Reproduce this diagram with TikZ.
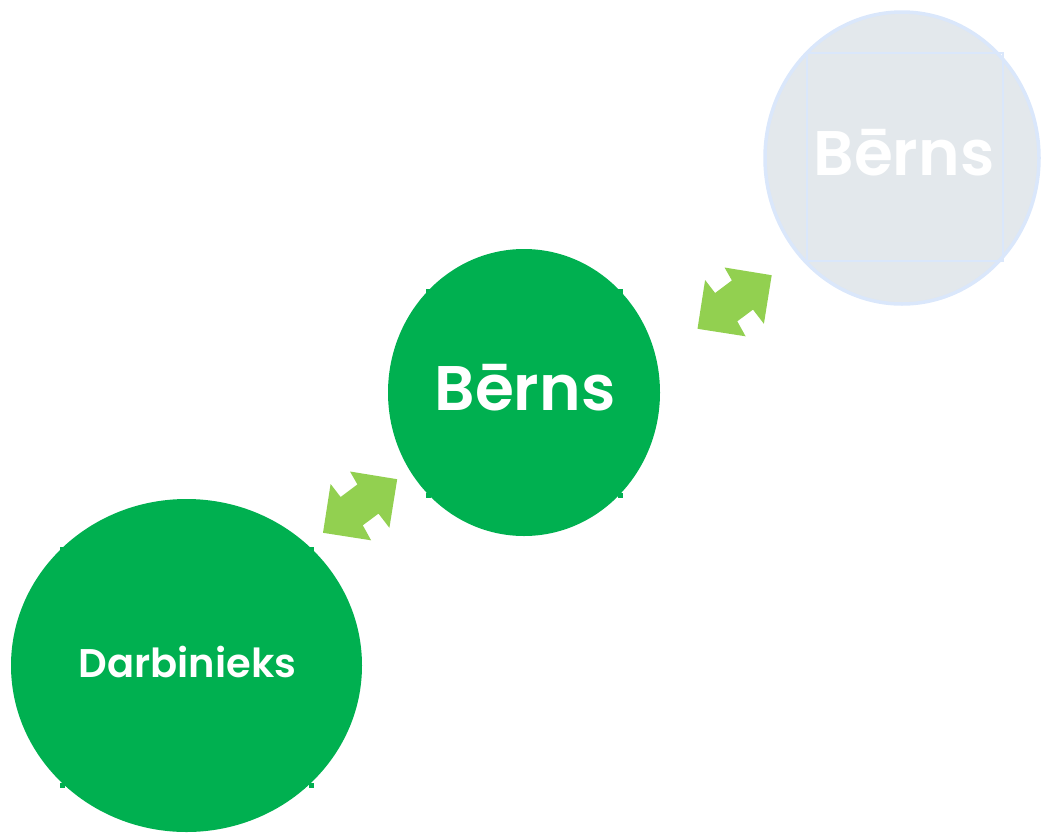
\documentclass[tikz,border=0pt]{standalone}
\usepackage{fontspec}
\setmainfont{Poppins}[BoldFont={Poppins SemiBold}]
\usetikzlibrary{shapes.geometric}
\definecolor{grn}{HTML}{00B050}
\definecolor{lgrn}{HTML}{92D050}
\definecolor{ghostfill}{HTML}{E3E8EC}
\definecolor{ghostline}{HTML}{DAE7FB}
\tikzset{
  bubble/.style={ellipse, fill=grn, inner sep=0pt, text=white, font=\bfseries},
  ghost/.style={ellipse, fill=ghostfill, draw=ghostline, line width=3.5pt, inner sep=0pt, text=white, font=\bfseries},
  tick/.style={fill=grn},
  pics/dblarrow/.style={code={
    \fill[lgrn] (-10,-34.5) -- (37.2,-26.8) -- (29.4,21.8) -- (18.5,7.6) -- (2.8,19.3)
      -- (11.1,34.3) -- (-37,26.8) -- (-29.4,-22) -- (-19.4,-9) -- (-2.6,-21.6) -- cycle;
  }}
}
\begin{document}
\begin{tikzpicture}[x=1pt,y=-1pt]
\useasboundingbox (0,0) rectangle (1041,833);
% ghost circle
\node[ghost, minimum width=274pt, minimum height=292pt] (g) at (902,158) {};
\draw[ghostline, line width=1.2pt] (807,53) rectangle (1003,261);
\node[text=white, font=\bfseries\fontsize{63}{68}\selectfont] (gt) at (904,153) {Bērns};
% child circle
\node[bubble, minimum width=272pt, minimum height=287pt] (b) at (524,392.5) {};
\node[text=white, font=\bfseries\fontsize{63}{68}\selectfont] (bt) at (525,387.5) {Bērns};
% employee circle
\node[bubble, minimum width=351pt, minimum height=333pt] (d) at (186.5,665.5) {};
\node[text=white, font=\bfseries\fontsize{40}{46}\selectfont] (dt) at (187.5,662) {Darbinieks};
% ticks
\foreach \x/\y in {428/291,620/291,428/495,620/495,62/549,311/549,62/785,311/785}
  \fill[tick] (\x-2.5,\y-2.5) rectangle (\x+2.5,\y+2.5);
% arrows
\coordinate (a1) at (360,506);
\coordinate (a2) at (734.5,302);
\pic at (a1) {dblarrow};
\pic at (a2) {dblarrow};
\end{tikzpicture}
\end{document}
